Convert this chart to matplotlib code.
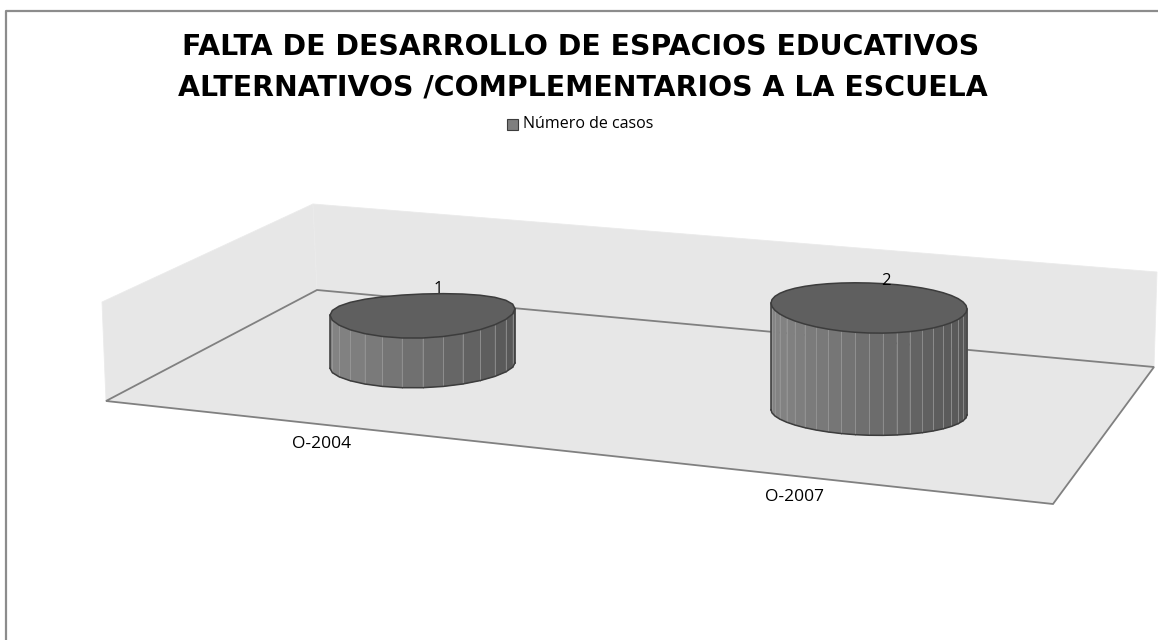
import numpy as np
import matplotlib
matplotlib.use("Agg")
import matplotlib.pyplot as plt
from matplotlib.patches import Polygon, Rectangle

title_lines = ["FALTA DE DESARROLLO DE ESPACIOS EDUCATIVOS",
               "ALTERNATIVOS /COMPLEMENTARIOS A LA ESCUELA"]
series_name = "Número de casos"
categories = ["O-2004", "O-2007"]
values = [1, 2]

W, H = 1158, 640

# scene geometry, pixels
left_wall = [(102, 302), (313, 204), (317, 290), (106, 401)]
back_wall = [(313, 204), (1157, 272), (1154, 367), (317, 290)]
floor = [(106, 401), (317, 290), (1154, 367), (1053, 504)]
base_x = [422.5, 869]
base_y = [369, 414]
label_x = [322, 795]
label_y = [444, 497]
radius_x = [92.5, 98]
radius_y = [22, 25]
tilts = [-0.035, 0.03]
sag = [4, 2]
facets = [28, 44]
unit_h = 53

fig = plt.figure(figsize=(W / 100, H / 100), dpi=100)
ax = fig.add_axes([0, 0, 1, 1])
ax.set_xlim(0, W)
ax.set_ylim(H, 0)
ax.axis("off")

# only the top and left edges of the frame are inside the picture
ax.plot([6, 6, W], [H, 10.5, 10.5], color="#8c8c8c", lw=1.6)
ax.add_patch(Polygon(left_wall, fc="#e7e7e7", ec="#ebebeb", lw=0.6))
ax.add_patch(Polygon(back_wall, fc="#e7e7e7", ec="#ebebeb", lw=0.6))
ax.add_patch(Polygon(floor, fc="#e7e7e7", ec="#808080", lw=1.3))


def cylinder(k):
    cx, cy, rx, ry = base_x[k], base_y[k], radius_x[k], radius_y[k]
    h = values[k] * unit_h
    t = np.linspace(0, 2 * np.pi, facets[k] + 1)[:-1]
    ex = rx * np.cos(t)
    ey = ry * np.sin(t) + tilts[k] * ex - sag[k] * np.cos(t) ** 2
    for i in range(len(t)):
        j = (i + 1) % len(t)
        if np.sin(t[i]) + np.sin(t[j]) < 0:
            continue
        # left side lighter than the right one
        shade = 0.34 + 0.09 * (1 - (ex[i] + ex[j]) / (2 * rx))
        pts = [(cx + ex[i], cy - h + ey[i]), (cx + ex[j], cy - h + ey[j]),
               (cx + ex[j], cy + ey[j] * 0.85), (cx + ex[i], cy + ey[i] * 0.85)]
        ax.add_patch(Polygon(pts, fc=str(shade), ec=str(shade), lw=0.3, zorder=3))
        ax.plot([pts[0][0], pts[3][0]], [pts[0][1], pts[3][1]], color="#9c9c9c", lw=0.5, zorder=3.5)
    # outline of body
    lower = [i for i in range(len(t)) if np.sin(t[i]) >= 0]
    ax.plot(cx + ex[lower], cy + ey[lower] * 0.85, color="#3c3c3c", lw=1.1, zorder=4)
    for i in (lower[0], lower[-1]):
        ax.plot([cx + ex[i]] * 2, [cy - h + ey[i], cy + ey[i] * 0.85], color="#3c3c3c", lw=1.1, zorder=4)
    top = np.column_stack([cx + ex, cy - h + ey])
    ax.add_patch(Polygon(top, fc="#5f5f5f", ec="#3c3c3c", lw=1.1, zorder=5))
    ax.text(cx + rx * 0.17, cy - h - 27, str(values[k]), ha="center", va="center",
            fontsize=12, family="Open Sans", color="black", zorder=6)


for k in range(len(values)):
    cylinder(k)
    ax.text(label_x[k], label_y[k], categories[k], ha="center", va="center",
            fontsize=12.5, family="Open Sans", color="black")

ax.text(581, 47, title_lines[0], ha="center", va="center", fontsize=20.4,
        family="DejaVu Sans", fontweight="bold", color="black")
ax.text(582.5, 87, title_lines[1], ha="center", va="center", fontsize=20.4,
        family="DejaVu Sans", fontweight="bold", color="black")

ax.add_patch(Rectangle((507, 119), 11, 11, fc="#7f7f7f", ec="#3c3c3c", lw=0.8))
ax.text(523, 124, series_name, ha="left", va="center", fontsize=11.5,
        family="Open Sans", color="black")

fig.savefig("out.png", dpi=100)
